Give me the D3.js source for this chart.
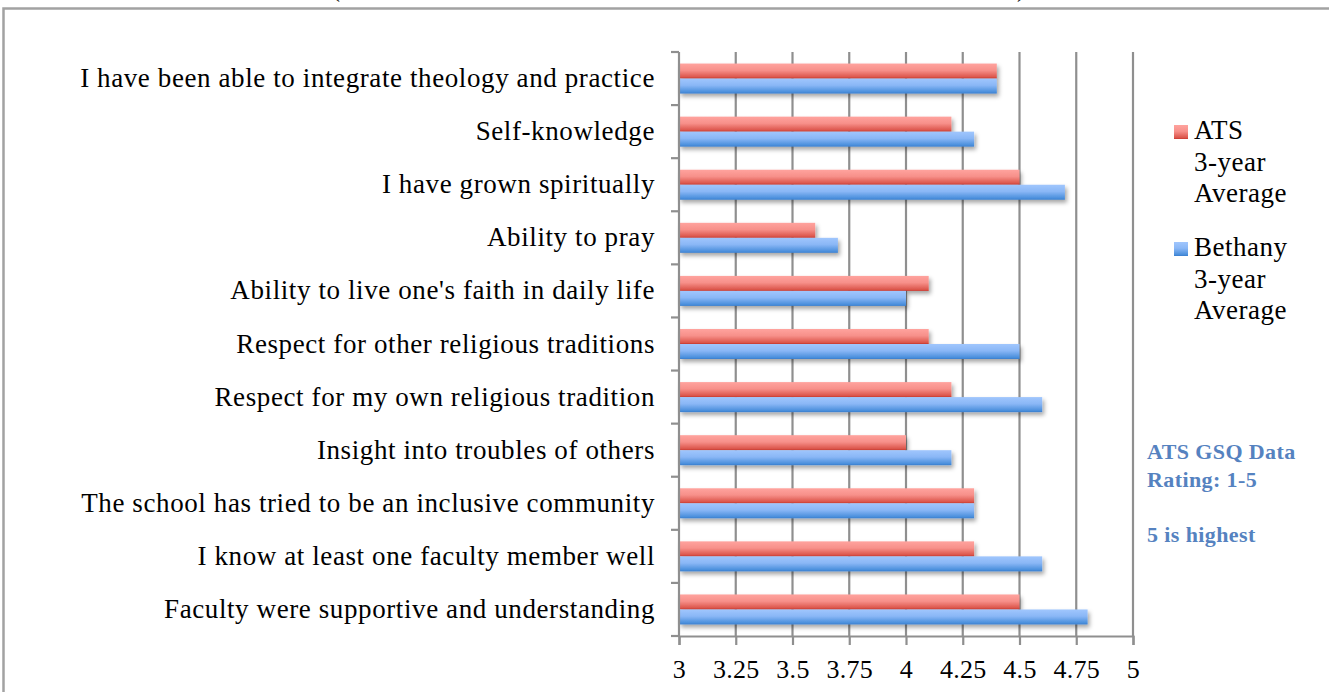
<!DOCTYPE html>
<html>
<head>
<meta charset="utf-8">
<title>ATS GSQ Data</title>
<script src="https://d3js.org/d3.v7.min.js"></script>
<style>
  body { margin: 0; background: #fff; }
  svg { display: block; }
</style>
</head>
<body>
<script>
// categories, top to bottom
const categories = [
    "I have been able to integrate theology and practice",
    "Self-knowledge",
    "I have grown spiritually",
    "Ability to pray",
    "Ability to live one's faith in daily life",
    "Respect for other religious traditions",
    "Respect for my own religious tradition",
    "Insight into troubles of others",
    "The school has tried to be an inclusive community",
    "I know at least one faculty member well",
    "Faculty were supportive and understanding"
];
const seriesNames = ["ATS 3-year Average", "Bethany 3-year Average"];
const atsValues = [4.4, 4.2, 4.5, 3.6, 4.1, 4.1, 4.2, 4.0, 4.3, 4.3, 4.5];
const bethanyValues = [4.4, 4.3, 4.7, 3.7, 4.0, 4.5, 4.6, 4.2, 4.3, 4.6, 4.8];
const xTicks = [3, 3.25, 3.5, 3.75, 4, 4.25, 4.5, 4.75, 5];
const legendLines = [["ATS", "3-year", "Average"], ["Bethany", "3-year", "Average"]];
const noteLines = ["ATS GSQ Data", "Rating: 1-5", "", "5 is highest"];

const W = 1329, H = 692;
const plot = { left: 679, right: 1133, top: 52, bottom: 636 };
const serif = "'Liberation Serif', 'DejaVu Serif', serif";

const svg = d3.select("body").append("svg")
    .attr("width", W)
    .attr("height", H);

const defs = svg.append("defs");
function gradient(id, stops) {
    const g = defs.append("linearGradient")
        .attr("id", id)
        .attr("x1", 0).attr("y1", 0).attr("x2", 0).attr("y2", 1);
    stops.forEach(s => g.append("stop").attr("offset", s[0]).attr("stop-color", s[1]));
}
gradient("gradRed", [[0, "#ffa39e"], [0.45, "#f7908a"], [0.9, "#dc564c"], [1, "#c9382f"]]);
gradient("gradBlue", [[0, "#a0c6fd"], [0.45, "#8ab7f6"], [0.9, "#4a8fdc"], [1, "#3a7dcc"]]);
const shadow = defs.append("filter").attr("id", "shadow")
    .attr("x", "-5%").attr("y", "-30%").attr("width", "115%").attr("height", "190%");
shadow.append("feDropShadow")
    .attr("dx", 2).attr("dy", 3).attr("stdDeviation", 2.2)
    .attr("flood-color", "#000").attr("flood-opacity", 0.35);

// chart frame (runs off the picture at right and bottom)
svg.append("rect")
    .attr("x", 3.5).attr("y", 8.5)
    .attr("width", W + 20).attr("height", H + 20)
    .attr("fill", "none")
    .attr("stroke", "#a2a2a2")
    .attr("stroke-width", 2.5);

// title cut off above the frame
svg.append("text").attr("x", 336).attr("y", -3)
    .attr("font-family", serif).attr("font-size", 24).attr("text-anchor", "middle").text("(");
svg.append("text").attr("x", 1021).attr("y", -3)
    .attr("font-family", serif).attr("font-size", 24).attr("text-anchor", "middle").text(")");

// scales
const x = d3.scaleLinear().domain([3, 5]).range([plot.left, plot.right]);
const y = d3.scaleBand().domain(categories)
    .range([plot.top, plot.bottom])
    .paddingInner(0.435).paddingOuter(0.2175);
const ySub = d3.scaleBand().domain(seriesNames).range([0, y.bandwidth()]);
const step = y.step();

// vertical gridlines
svg.append("g").selectAll("line")
    .data(xTicks.slice(1))
    .join("line")
    .attr("x1", d => x(d)).attr("x2", d => x(d))
    .attr("y1", plot.top).attr("y2", plot.bottom)
    .attr("stroke", "#8f8f8f")
    .attr("stroke-width", 2.2);

// bars
const rows = categories.map((c, i) => ({ cat: c, ats: atsValues[i], bethany: bethanyValues[i] }));
const groups = svg.append("g").selectAll("g")
    .data(rows)
    .join("g")
    .attr("transform", d => `translate(0,${y(d.cat)})`);

groups.selectAll("rect")
    .data(d => [
        { name: seriesNames[0], value: d.ats, fill: "url(#gradRed)" },
        { name: seriesNames[1], value: d.bethany, fill: "url(#gradBlue)" }
    ])
    .join("rect")
    .attr("x", x(3))
    .attr("y", d => ySub(d.name))
    .attr("width", d => x(d.value) - x(3))
    .attr("height", ySub.bandwidth())
    .attr("fill", d => d.fill)
    .attr("filter", "url(#shadow)");

// left axis with tick marks between categories
const yEdges = d3.range(categories.length + 1).map(i => plot.top + i * step);
const axisG = svg.append("g");
axisG.append("line")
    .attr("x1", plot.left).attr("x2", plot.left)
    .attr("y1", plot.top).attr("y2", plot.bottom)
    .attr("stroke", "#8f8f8f").attr("stroke-width", 2.2);
axisG.selectAll("line.ytick")
    .data(yEdges)
    .join("line")
    .attr("class", "ytick")
    .attr("x1", plot.left - 8).attr("x2", plot.left)
    .attr("y1", d => d).attr("y2", d => d)
    .attr("stroke", "#8f8f8f").attr("stroke-width", 2.2);

// bottom axis
const xAxis = svg.append("g")
    .attr("transform", `translate(0,${plot.bottom})`)
    .call(d3.axisBottom(x).tickValues(xTicks).tickSize(9).tickPadding(15)
        .tickFormat(d => d3.format("")(d)));
xAxis.select(".domain").attr("stroke", "#8f8f8f").attr("stroke-width", 2.2);
xAxis.selectAll(".tick line").attr("stroke", "#8f8f8f").attr("stroke-width", 2.2);
xAxis.selectAll(".tick text")
    .attr("font-family", serif)
    .attr("font-size", 26)
    .attr("letter-spacing", 0.3)
    .attr("fill", "#000");

// category labels
svg.append("g").selectAll("text")
    .data(categories)
    .join("text")
    .attr("x", 655)
    .attr("y", d => y(d) + y.bandwidth() / 2 + 8.5)
    .attr("text-anchor", "end")
    .attr("font-family", serif)
    .attr("font-size", 27)
    .attr("letter-spacing", 0.6)
    .attr("fill", "#000")
    .text(d => d);

// legend
const legendColors = ["url(#gradRed)", "url(#gradBlue)"];
const legendTop = [139, 256];
legendLines.forEach((lines, i) => {
    svg.append("rect")
        .attr("x", 1174).attr("y", legendTop[i] - 14)
        .attr("width", 14).attr("height", 14)
        .attr("fill", legendColors[i]);
    const t = svg.append("text")
        .attr("font-family", serif)
        .attr("font-size", 27)
        .attr("letter-spacing", 0.5)
        .attr("fill", "#000");
    lines.forEach((l, j) => {
        t.append("tspan").attr("x", 1194).attr("y", legendTop[i] + j * 31.5).text(l);
    });
});

// note
const note = svg.append("text")
    .attr("font-family", serif)
    .attr("font-size", 22)
    .attr("font-weight", "bold")
    .attr("letter-spacing", 0.4)
    .attr("fill", "#5582c0");
noteLines.forEach((l, j) => {
    note.append("tspan").attr("x", 1147).attr("y", 459 + j * 27.7).text(l);
});
</script>
</body>
</html>
